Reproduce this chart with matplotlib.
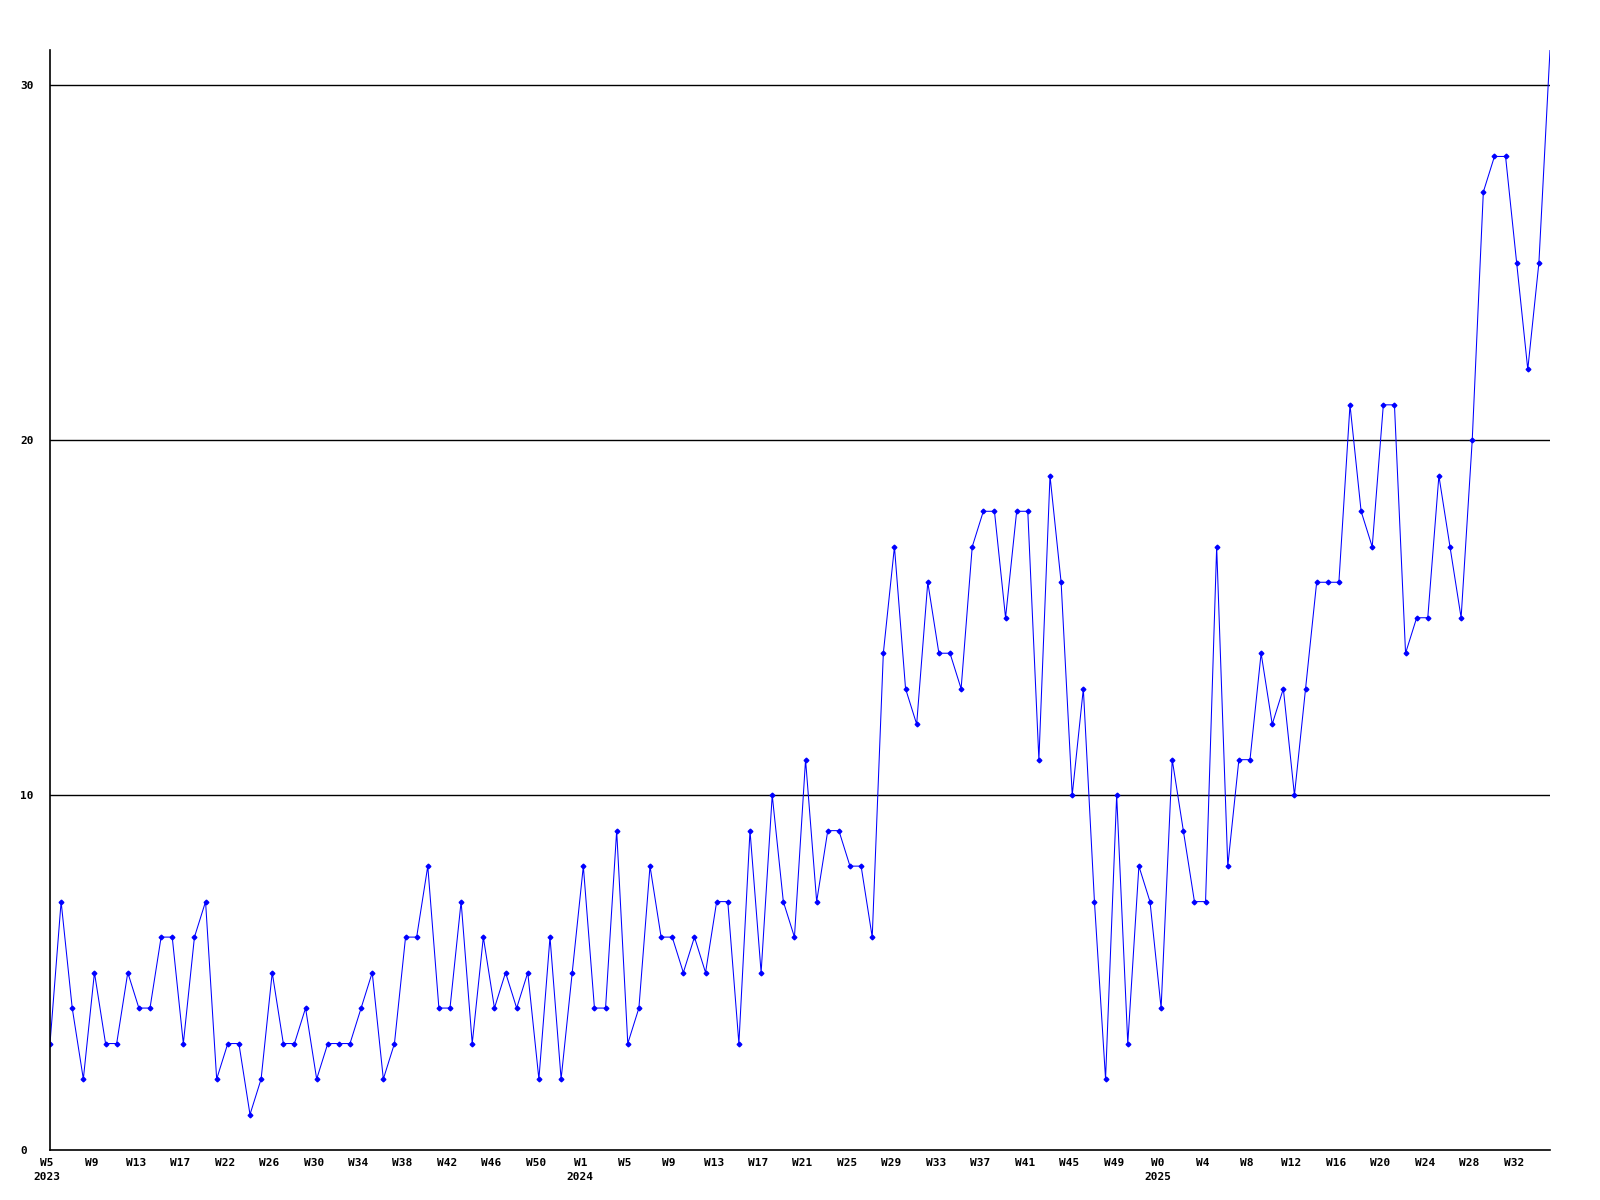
import matplotlib
matplotlib.use("Agg")
import matplotlib.pyplot as plt
import matplotlib.transforms as mtransforms

values = [3, 7, 4, 2, 5, 3, 3, 5, 4, 4, 6, 6, 3, 6, 7, 2, 3, 3, 1, 2,
          5, 3, 3, 4, 2, 3, 3, 3, 4, 5, 2, 3, 6, 6, 8, 4, 4, 7, 3, 6,
          4, 5, 4, 5, 2, 6, 2, 5, 8, 4, 4, 9, 3, 4, 8, 6, 6, 5, 6, 5,
          7, 7, 3, 9, 5, 10, 7, 6, 11, 7, 9, 9, 8, 8, 6, 14, 17, 13, 12, 16,
          14, 14, 13, 17, 18, 18, 15, 18, 18, 11, 19, 16, 10, 13, 7, 2, 10, 3, 8, 7,
          4, 11, 9, 7, 7, 17, 8, 11, 11, 14, 12, 13, 10, 13, 16, 16, 16, 21, 18, 17,
          21, 21, 14, 15, 15, 19, 17, 15, 20, 27, 28, 28, 25, 22, 25, 31]

tick_labels = ["W5\n2023", "W9", "W13", "W17", "W22", "W26", "W30", "W34", "W38",
               "W42", "W46", "W50", "W1\n2024", "W5", "W9", "W13", "W17", "W21",
               "W25", "W29", "W33", "W37", "W41", "W45", "W49", "W0\n2025", "W4",
               "W8", "W12", "W16", "W20", "W24", "W28", "W32"]
y_ticks = [0, 10, 20, 30]

fig = plt.figure(figsize=(16, 12), dpi=100)
ax = fig.add_axes([50/1600, 50/1200, 1500/1600, 1100/1200])

x = list(range(len(values)))
ax.plot(x, values, color="#0000FF", linewidth=0.75, marker="D", markersize=2.4,
        markerfacecolor="#0000FF", markeredgecolor="#0000FF", clip_on=True,
        markevery=list(range(len(values) - 1)))

ax.set_xlim(0, len(values) - 1)
ax.set_ylim(0, 31)

for yv in y_ticks[1:]:
    ax.axhline(yv, color="black", linewidth=1.0, zorder=0)

ax.spines["top"].set_visible(False)
ax.spines["right"].set_visible(False)
ax.spines["left"].set_linewidth(1.2)
ax.spines["bottom"].set_linewidth(1.2)

ax.set_yticks(y_ticks)
ax.set_yticklabels([str(v) for v in y_ticks], fontfamily="DejaVu Sans Mono",
                   fontweight="bold", fontsize=8, ha="left")
ax.tick_params(axis="y", length=0, pad=21.6)

ax.set_xticks(list(range(0, len(values), 4))[:len(tick_labels)])
ax.set_xticklabels(tick_labels, fontfamily="DejaVu Sans Mono", fontweight="bold",
                   fontsize=8, linespacing=1.5)
ax.tick_params(axis="x", length=0, pad=6)
shift = mtransforms.ScaledTranslation(-3/100, 0, fig.dpi_scale_trans)
for lbl in ax.get_xticklabels():
    lbl.set_transform(lbl.get_transform() + shift)

fig.savefig("out.png", dpi=100, facecolor="white")
